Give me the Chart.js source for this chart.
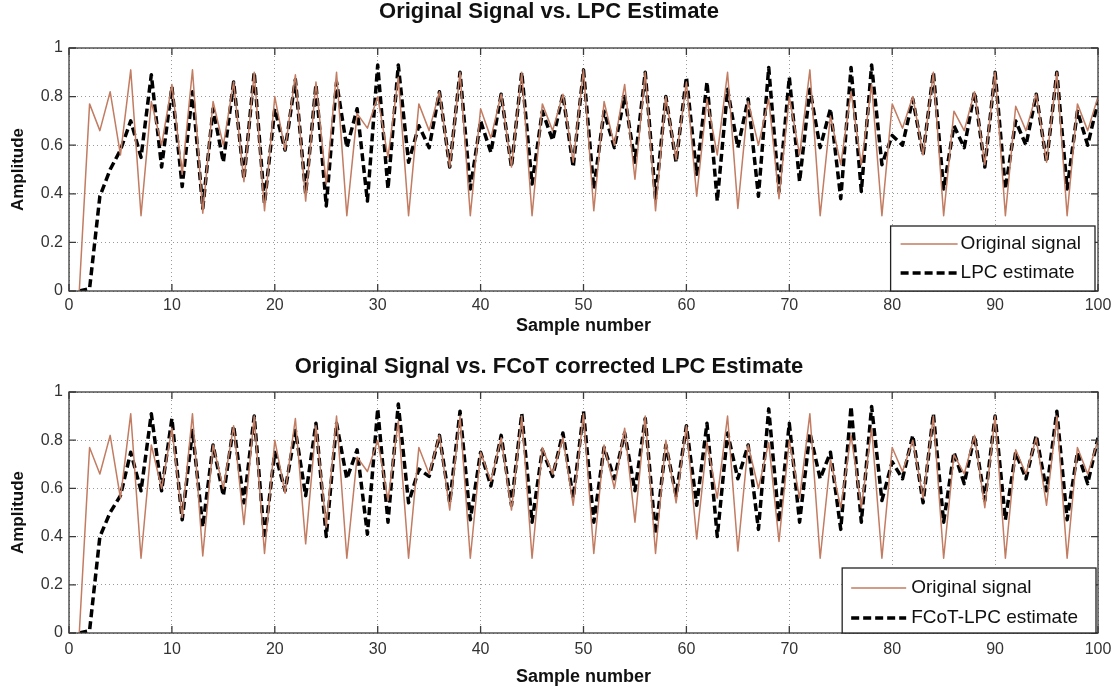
<!DOCTYPE html>
<html>
<head>
<meta charset="utf-8">
<script src="https://cdn.jsdelivr.net/npm/chart.js@4.4.0/dist/chart.umd.min.js"></script>
<style>
  html, body { margin: 0; padding: 0; background: #fff; }
  #wrap { position: relative; width: 1114px; height: 686px; }
  canvas { position: absolute; left: 0; }
</style>
</head>
<body>
<div id="wrap">
  <canvas id="topChart" width="1114" height="340" style="top:0"></canvas>
  <canvas id="bottomChart" width="1114" height="341" style="top:345px"></canvas>
</div>
<script>
// sample axis
var xTicks = [0, 10, 20, 30, 40, 50, 60, 70, 80, 90, 100];
var yTicks = [0, 0.2, 0.4, 0.6, 0.8, 1];

// original signal (same in both panels), samples 1..100
var originalSignal = [
  0.00, 0.77, 0.66, 0.82, 0.56, 0.91, 0.31, 0.78, 0.60, 0.85,
  0.48, 0.91, 0.32, 0.78, 0.60, 0.86, 0.45, 0.90, 0.33, 0.80,
  0.58, 0.89, 0.37, 0.86, 0.44, 0.90, 0.31, 0.73, 0.67, 0.80,
  0.55, 0.88, 0.31, 0.77, 0.66, 0.82, 0.51, 0.90, 0.31, 0.75,
  0.63, 0.81, 0.51, 0.90, 0.31, 0.77, 0.66, 0.81, 0.53, 0.91,
  0.33, 0.78, 0.60, 0.85, 0.46, 0.90, 0.33, 0.80, 0.54, 0.86,
  0.39, 0.79, 0.56, 0.90, 0.34, 0.78, 0.60, 0.79, 0.38, 0.80,
  0.56, 0.91, 0.31, 0.72, 0.52, 0.82, 0.52, 0.85, 0.31, 0.77,
  0.67, 0.80, 0.56, 0.90, 0.31, 0.74, 0.66, 0.82, 0.52, 0.90,
  0.31, 0.76, 0.66, 0.81, 0.53, 0.90, 0.31, 0.77, 0.66, 0.80
];

// plain LPC estimate (top panel)
var lpcEstimate = [
  0.00, 0.01, 0.39, 0.50, 0.58, 0.70, 0.55, 0.89, 0.51, 0.84,
  0.43, 0.82, 0.34, 0.75, 0.53, 0.86, 0.46, 0.90, 0.36, 0.75,
  0.58, 0.87, 0.40, 0.85, 0.35, 0.86, 0.59, 0.75, 0.37, 0.93,
  0.42, 0.93, 0.53, 0.68, 0.59, 0.82, 0.51, 0.90, 0.42, 0.70,
  0.57, 0.81, 0.51, 0.90, 0.44, 0.74, 0.62, 0.81, 0.51, 0.91,
  0.42, 0.74, 0.59, 0.80, 0.53, 0.90, 0.38, 0.80, 0.53, 0.88,
  0.48, 0.86, 0.37, 0.83, 0.59, 0.79, 0.39, 0.92, 0.41, 0.88,
  0.45, 0.83, 0.59, 0.75, 0.38, 0.92, 0.41, 0.93, 0.52, 0.64,
  0.60, 0.79, 0.56, 0.90, 0.42, 0.68, 0.59, 0.82, 0.51, 0.90,
  0.42, 0.70, 0.60, 0.81, 0.53, 0.90, 0.42, 0.74, 0.60, 0.78
];

// FCoT corrected LPC estimate (bottom panel)
var fcotEstimate = [
  0.00, 0.01, 0.40, 0.50, 0.57, 0.75, 0.59, 0.91, 0.59, 0.89,
  0.47, 0.84, 0.44, 0.78, 0.57, 0.86, 0.54, 0.90, 0.39, 0.75,
  0.59, 0.84, 0.57, 0.87, 0.40, 0.87, 0.64, 0.76, 0.41, 0.93,
  0.46, 0.95, 0.54, 0.68, 0.65, 0.82, 0.54, 0.92, 0.47, 0.75,
  0.61, 0.82, 0.53, 0.91, 0.46, 0.76, 0.65, 0.83, 0.56, 0.92,
  0.46, 0.77, 0.64, 0.83, 0.59, 0.89, 0.41, 0.78, 0.57, 0.86,
  0.53, 0.87, 0.40, 0.83, 0.64, 0.78, 0.43, 0.93, 0.46, 0.87,
  0.46, 0.83, 0.64, 0.75, 0.43, 0.94, 0.46, 0.94, 0.55, 0.71,
  0.64, 0.82, 0.54, 0.91, 0.46, 0.75, 0.62, 0.82, 0.55, 0.90,
  0.47, 0.75, 0.64, 0.82, 0.59, 0.92, 0.47, 0.75, 0.62, 0.81
];

var FONT = '"Liberation Sans", Arial, sans-serif';

function toPoints(values) {
  var pts = [];
  for (var i = 0; i < values.length; i++) {
    pts.push({ x: i + 1, y: values[i] });
  }
  return pts;
}

// box + inward ticks like a matlab axes
var matlabFrame = {
  id: 'matlabFrame',
  afterDatasetsDraw: function(chart) {
    var ctx = chart.ctx, a = chart.chartArea;
    var xs = chart.scales.x, ys = chart.scales.y;
    ctx.save();
    ctx.strokeStyle = '#3a3a3a';
    ctx.lineWidth = 1.3;
    ctx.strokeRect(a.left, a.top, a.right - a.left, a.bottom - a.top);
    ctx.beginPath();
    xTicks.forEach(function(v) {
      var px = xs.getPixelForValue(v);
      ctx.moveTo(px, a.bottom); ctx.lineTo(px, a.bottom - 7);
      ctx.moveTo(px, a.top); ctx.lineTo(px, a.top + 7);
    });
    yTicks.forEach(function(v) {
      var py = ys.getPixelForValue(v);
      ctx.moveTo(a.left, py); ctx.lineTo(a.left + 7, py);
      ctx.moveTo(a.right, py); ctx.lineTo(a.right - 7, py);
    });
    ctx.stroke();
    ctx.restore();
  }
};

// legend box sitting in the lower right corner of the axes
var boxLegend = {
  id: 'boxLegend',
  afterDraw: function(chart, args, opts) {
    var ctx = chart.ctx, a = chart.chartArea;
    ctx.save();
    ctx.font = '19px ' + FONT;
    var maxW = 0;
    chart.data.datasets.forEach(function(ds) {
      maxW = Math.max(maxW, ctx.measureText(ds.label).width);
    });
    var w = opts.padLeft + opts.lineLen + opts.gap + maxW + opts.padRight;
    var h = opts.height;
    var x0 = a.right - opts.marginRight - w;
    var y0 = a.bottom - h;
    ctx.fillStyle = '#fff';
    ctx.fillRect(x0, y0, w, h);
    ctx.strokeStyle = '#222';
    ctx.lineWidth = 1.3;
    ctx.strokeRect(x0, y0, w, h);
    chart.data.datasets.forEach(function(ds, i) {
      var cy = y0 + opts.rowTop + i * opts.rowGap;
      ctx.strokeStyle = ds.borderColor;
      ctx.lineWidth = ds.borderWidth;
      ctx.setLineDash(ds.borderDash || []);
      ctx.beginPath();
      ctx.moveTo(x0 + opts.padLeft, cy);
      ctx.lineTo(x0 + opts.padLeft + opts.lineLen, cy);
      ctx.stroke();
      ctx.setLineDash([]);
      ctx.fillStyle = '#111';
      ctx.textBaseline = 'middle';
      ctx.fillText(ds.label, x0 + opts.padLeft + opts.lineLen + opts.gap, cy);
    });
    ctx.restore();
  }
};

function makeChart(id, titleText, estLabel, estValues, cfg) {
  var ctx = document.getElementById(id);
  return new Chart(ctx, {
    type: 'line',
    data: {
      datasets: [
        {
          label: 'Original signal',
          data: toPoints(originalSignal),
          borderColor: '#c27c62',
          borderWidth: 1.5,
          borderJoinStyle: 'round',
          pointRadius: 0,
          tension: 0
        },
        {
          label: estLabel,
          data: toPoints(estValues),
          borderColor: '#000',
          borderWidth: 3.5,
          borderDash: [8, 4],
          borderJoinStyle: 'round',
          pointRadius: 0,
          tension: 0
        }
      ]
    },
    options: {
      responsive: false,
      animation: false,
      events: [],
      layout: { padding: { left: 0, right: 16, top: 0, bottom: 0 } },
      plugins: {
        legend: { display: false },
        tooltip: { enabled: false },
        title: {
          display: true,
          text: titleText,
          color: '#111',
          font: { family: FONT, size: 22, weight: 'bold', lineHeight: 1 },
          padding: { top: cfg.titleTop, bottom: cfg.titleBottom }
        },
        boxLegend: cfg.legend
      },
      scales: {
        x: {
          type: 'linear',
          min: 0,
          max: 100,
          afterBuildTicks: function(scale) {
            scale.ticks = xTicks.map(function(v) { return { value: v }; });
          },
          afterFit: function(scale) {
            scale.height = cfg.xHeight;
            scale.paddingLeft = 0;
            scale.paddingRight = 0;
          },
          ticks: {
            color: '#333',
            padding: cfg.xTickPad,
            font: { family: FONT, size: 16 },
            maxRotation: 0,
            callback: function(v) { return String(v); }
          },
          grid: { color: '#9a9a9a', lineWidth: 1, drawTicks: false },
          border: { display: false, dash: [1, 3] },
          title: {
            display: true,
            text: 'Sample number',
            color: '#111',
            font: { family: FONT, size: 18, weight: 'bold', lineHeight: 1 },
            padding: { top: 0, bottom: cfg.xTitleBottom }
          }
        },
        y: {
          min: 0,
          max: 1,
          afterBuildTicks: function(scale) {
            scale.ticks = yTicks.map(function(v) { return { value: v }; });
          },
          afterFit: function(scale) {
            scale.width = 69;
            scale.paddingTop = 0;
            scale.paddingBottom = 0;
          },
          ticks: {
            color: '#333',
            padding: 6,
            font: { family: FONT, size: 16 },
            callback: function(v) { return String(Math.round(v * 10) / 10); }
          },
          grid: { color: '#9a9a9a', lineWidth: 1, drawTicks: false },
          border: { display: false, dash: [1, 3] },
          title: {
            display: true,
            text: 'Amplitude',
            color: '#111',
            font: { family: FONT, size: 17, weight: 'bold', lineHeight: 1 },
            padding: { top: 10, bottom: 0 }
          }
        }
      }
    },
    plugins: [matlabFrame, boxLegend]
  });
}

makeChart('topChart', 'Original Signal vs. LPC Estimate', 'LPC estimate', lpcEstimate, {
  titleTop: 1, titleBottom: 25,
  xHeight: 49, xTickPad: 5, xTitleBottom: 5,
  legend: { padLeft: 10, lineLen: 57, gap: 3, padRight: 14, height: 65,
            marginRight: 3, rowTop: 18, rowGap: 29 }
});

makeChart('bottomChart', 'Original Signal vs. FCoT corrected LPC Estimate', 'FCoT-LPC estimate', fcotEstimate, {
  titleTop: 11, titleBottom: 14,
  xHeight: 53, xTickPad: 7, xTitleBottom: 0,
  legend: { padLeft: 9, lineLen: 55, gap: 5, padRight: 18, height: 65,
            marginRight: 2, rowTop: 20, rowGap: 30 }
});
</script>
</body>
</html>
